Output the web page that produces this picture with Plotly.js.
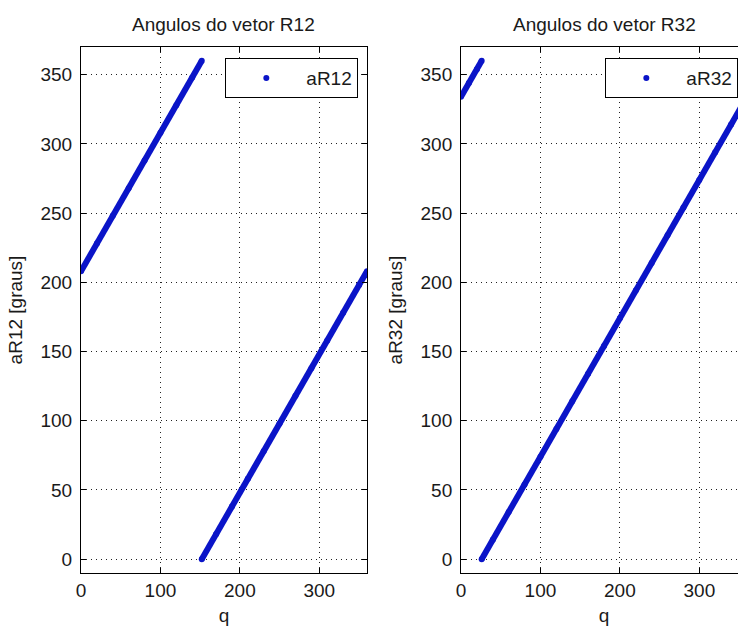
<!DOCTYPE html>
<html>
<head>
<meta charset="utf-8">
<script src="https://cdn.plot.ly/plotly-3.0.1.min.js"></script>
<style>
html, body { margin: 0; padding: 0; overflow: hidden; background: #fff; }
#chart { width: 760px; height: 626px; }
</style>
</head>
<body>
<div id="chart"></div>
<script>
// ---- Data ----
// Left panel: aR12 (degrees) vs q; the angle wraps from 360 back to 0 near q = 152
const q12Upper = [0, 20, 40, 60, 80, 100, 120, 140, 152];
const aR12Upper = [208, 228, 248, 268, 288, 308, 328, 348, 360];
const q12Lower = [152, 170, 190, 210, 230, 250, 270, 290, 310, 330, 350, 360];
const aR12Lower = [0, 18, 38, 58, 78, 98, 118, 138, 158, 178, 198, 208];

// Right panel: aR32 (degrees) vs q; the angle wraps near q = 26
const q32Upper = [0, 10, 20, 26];
const aR32Upper = [334, 344, 354, 360];
const q32Lower = [26, 40, 60, 80, 100, 120, 140, 160, 180, 200, 220, 240, 260, 280, 300, 320, 340, 360];
const aR32Lower = [0, 14, 34, 54, 74, 94, 114, 134, 154, 174, 194, 214, 234, 254, 274, 294, 314, 334];

const xTicks = [0, 100, 200, 300];
const yTicks = [0, 50, 100, 150, 200, 250, 300, 350];

const titles = ['Angulos do vetor R12', 'Angulos do vetor R32'];
const yLabels = ['aR12 [graus]', 'aR32 [graus]'];
const seriesNames = ['aR12', 'aR32'];

// ---- Build traces ----
const blue = '#0a14c8';
function joinSegments(a, b) { return a.concat([null], b); }

const q12 = joinSegments(q12Upper, q12Lower);
const a12 = joinSegments(aR12Upper, aR12Lower);
const q32 = joinSegments(q32Upper, q32Lower);
const a32 = joinSegments(aR32Upper, aR32Lower);

const traces = [
  { x: q12, y: a12, xaxis: 'x', yaxis: 'y', type: 'scatter', mode: 'lines',
    line: { color: blue, width: 6 }, showlegend: false, connectgaps: false, hoverinfo: 'skip' },
  { x: q12, y: a12, xaxis: 'x', yaxis: 'y', type: 'scatter', mode: 'markers', name: seriesNames[0],
    marker: { color: blue, size: 6, symbol: 'circle' }, legend: 'legend' },
  { x: q32, y: a32, xaxis: 'x2', yaxis: 'y2', type: 'scatter', mode: 'lines',
    line: { color: blue, width: 6 }, showlegend: false, connectgaps: false, hoverinfo: 'skip' },
  { x: q32, y: a32, xaxis: 'x2', yaxis: 'y2', type: 'scatter', mode: 'markers', name: seriesNames[1],
    marker: { color: blue, size: 6, symbol: 'circle' }, legend: 'legend2' }
];

const FONT = 'Liberation Sans, Arial, sans-serif';
const FS = 19;
const txtColor = '#1a1a1a';

function xAxis(domain, anchor) {
  return {
    domain: domain, anchor: anchor, range: [0, 360], tickvals: xTicks,
    ticks: 'inside', ticklen: 5, tickcolor: '#000', tickwidth: 1,
    showline: true, linecolor: '#000', linewidth: 1, mirror: 'ticks',
    showgrid: true, gridcolor: '#222', gridwidth: 1, griddash: '1px,4px',
    zeroline: false, tickfont: { family: FONT, size: FS, color: txtColor },
    title: { text: 'q', font: { family: FONT, size: FS, color: txtColor } },
    automargin: false, fixedrange: true
  };
}
function yAxis(anchor, label) {
  return {
    anchor: anchor, range: [-10, 370], tickvals: yTicks,
    ticks: 'inside', ticklen: 5, tickcolor: '#000', tickwidth: 1,
    showline: true, linecolor: '#000', linewidth: 1, mirror: 'ticks',
    showgrid: true, gridcolor: '#222', gridwidth: 1, griddash: '1px,4px',
    zeroline: false, tickfont: { family: FONT, size: FS, color: txtColor },
    ticklabelstandoff: 4,
    title: { text: label, standoff: 12, font: { family: FONT, size: FS, color: txtColor } },
    automargin: true, fixedrange: true
  };
}

const legendStyle = {
  bgcolor: '#fff', bordercolor: '#000', borderwidth: 1,
  font: { family: FONT, size: FS, color: txtColor },
  xanchor: 'right', yanchor: 'top', itemwidth: 70, tracegroupgap: 0
};

const layout = {
  width: 760, height: 626,
  margin: { l: 81, r: 13, t: 47, b: 53 },
  paper_bgcolor: '#fff', plot_bgcolor: '#fff',
  xaxis: xAxis([0, 0.4294], 'y'),
  yaxis: yAxis('x', yLabels[0]),
  xaxis2: xAxis([0.5706, 1], 'y2'),
  yaxis2: yAxis('x2', yLabels[1]),
  legend: Object.assign({ x: 0.4164, y: 0.979 }, legendStyle),
  legend2: Object.assign({ x: 0.987, y: 0.979 }, legendStyle),
  annotations: [
    { text: titles[0], xref: 'x domain', yref: 'paper', x: 0.5, y: 1, xanchor: 'center', yanchor: 'bottom',
      yshift: 10, showarrow: false, font: { family: FONT, size: FS, color: txtColor } },
    { text: titles[1], xref: 'x2 domain', yref: 'paper', x: 0.5, y: 1, xanchor: 'center', yanchor: 'bottom',
      yshift: 10, showarrow: false, font: { family: FONT, size: FS, color: txtColor } }
  ],
  showlegend: true
};

Plotly.newPlot('chart', traces, layout, { displayModeBar: false, responsive: false, staticPlot: true });
</script>
</body>
</html>
